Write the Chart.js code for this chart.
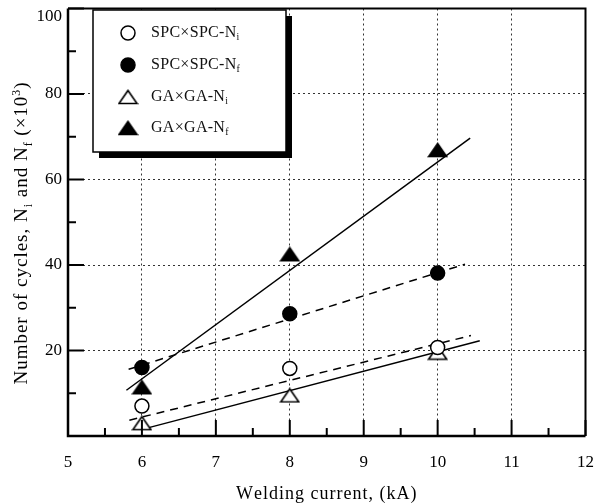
<!DOCTYPE html>
<html>
<head>
<meta charset="utf-8">
<script src="https://cdn.jsdelivr.net/npm/chart.js@4.4.1/dist/chart.umd.min.js"></script>
<style>
  html, body { margin: 0; padding: 0; background: #fff; }
  #wrap { width: 594px; height: 503px; }
</style>
</head>
<body>
<div id="wrap"><canvas id="fatigueChart"></canvas></div>
<script>
// values (x = welding current kA, y = cycles x10^3)
const currents = [6, 8, 10];
const spcNi = [7.0, 15.8, 20.7];
const spcNf = [16.0, 28.6, 38.1];
const gaNi = [3.0, 9.5, 19.5];
const gaNf = [11.4, 42.5, 66.9];

// fitted lines, end points [x, y]
const spcNiFit = [[5.83, 3.7], [10.45, 23.5]];
const spcNfFit = [[5.82, 15.6], [10.37, 40.2]];
const gaNiFit = [[6.08, 1.9], [10.57, 22.3]];
const gaNfFit = [[5.79, 10.7], [10.44, 69.7]];

const xTicks = [5, 6, 7, 8, 9, 10, 11, 12];
const yTicks = [0, 20, 40, 60, 80, 100];
const seriesLabels = ['SPC×SPC-N_i', 'SPC×SPC-N_f', 'GA×GA-N_i', 'GA×GA-N_f'];

const FONT = '"Liberation Serif", "DejaVu Serif", serif';

// flat triangle markers like the scanned figure
function triangleImage(filled) {
    const c = document.createElement('canvas');
    c.width = 21; c.height = 16;
    const g = c.getContext('2d');
    g.beginPath();
    g.moveTo(10.5, 1.5); g.lineTo(19.5, 14.5); g.lineTo(1.5, 14.5); g.closePath();
    g.fillStyle = filled ? '#000' : '#fff';
    g.fill();
    g.lineWidth = 1.6;
    g.strokeStyle = '#000';
    g.stroke();
    return c;
}
const triOpen = triangleImage(false);
const triFilled = triangleImage(true);

function pts(ys) { return currents.map((x, i) => ({ x: x, y: ys[i] })); }
function seg(p) { return p.map(d => ({ x: d[0], y: d[1] })); }

function markerSet(i, ys, style, filled) {
    return {
        label: seriesLabels[i],
        data: pts(ys),
        pointStyle: style,
        pointRadius: 7,
        pointBorderWidth: 1.5,
        pointBackgroundColor: filled ? '#000' : '#fff',
        pointBorderColor: '#000',
        showLine: false
    };
}
function fitSet(p, dashed) {
    return {
        label: '',
        data: seg(p),
        showLine: true,
        borderColor: '#000',
        borderWidth: 1.5,
        borderDash: dashed ? [8, 6] : [],
        pointRadius: 0
    };
}

// text pieces, some sub/superscript, with optional extra letter spacing
function drawRich(ctx, parts, x, y, size, sp) {
    let cx = x;
    sp = sp || 0;
    parts.forEach(p => {
        let s = size, dy = 0;
        if (p.sub) { s = size * 0.62; dy = size * 0.28; }
        if (p.sup) { s = size * 0.62; dy = -size * 0.38; }
        ctx.font = s + 'px ' + FONT;
        for (const ch of p.t) {
            ctx.fillText(ch, cx, y + dy);
            cx += ctx.measureText(ch).width + sp;
        }
    });
    return cx - x;
}
function richWidth(ctx, parts, size, sp) {
    let w = 0;
    sp = sp || 0;
    parts.forEach(p => {
        ctx.font = ((p.sub || p.sup) ? size * 0.62 : size) + 'px ' + FONT;
        for (const ch of p.t) w += ctx.measureText(ch).width + sp;
    });
    return w;
}
function splitLabel(lbl) {
    const k = lbl.indexOf('_');
    return [{ t: lbl.slice(0, k) }, { t: lbl.slice(k + 1), sub: true }];
}

const decor = {
    id: 'decor',
    afterDraw(chart) {
        const ctx = chart.ctx;
        const a = chart.chartArea;
        const xs = chart.scales.x, ys = chart.scales.y;
        ctx.save();
        ctx.strokeStyle = '#000';
        ctx.fillStyle = '#000';
        ctx.setLineDash([]);

        // inward ticks on left and bottom
        ctx.lineWidth = 2;
        xTicks.forEach((v, i) => {
            const px = xs.getPixelForValue(v);
            ctx.beginPath(); ctx.moveTo(px, a.bottom); ctx.lineTo(px, a.bottom - 16); ctx.stroke();
            if (i < xTicks.length - 1) {
                const m = xs.getPixelForValue((v + xTicks[i + 1]) / 2);
                ctx.beginPath(); ctx.moveTo(m, a.bottom); ctx.lineTo(m, a.bottom - 8); ctx.stroke();
            }
        });
        yTicks.forEach((v, i) => {
            const py = ys.getPixelForValue(v);
            ctx.beginPath(); ctx.moveTo(a.left, py); ctx.lineTo(a.left + 16, py); ctx.stroke();
            if (i < yTicks.length - 1) {
                const m = ys.getPixelForValue((v + yTicks[i + 1]) / 2);
                ctx.beginPath(); ctx.moveTo(a.left, m); ctx.lineTo(a.left + 8, m); ctx.stroke();
            }
        });

        // frame
        ctx.lineWidth = 2.5;
        ctx.beginPath();
        ctx.moveTo(a.left, a.top); ctx.lineTo(a.left, a.bottom); ctx.lineTo(a.right, a.bottom);
        ctx.stroke();
        ctx.lineWidth = 2;
        ctx.beginPath();
        ctx.moveTo(a.left, a.top); ctx.lineTo(a.right, a.top); ctx.lineTo(a.right, a.bottom);
        ctx.stroke();

        // tick labels
        ctx.font = '17px ' + FONT;
        ctx.textAlign = 'center';
        ctx.textBaseline = 'middle';
        xTicks.forEach(v => {
            ctx.fillText(String(v), xs.getPixelForValue(v), a.bottom + 27);
        });
        ctx.textAlign = 'right';
        yTicks.forEach(v => {
            if (v === 0) return;
            const py = Math.max(ys.getPixelForValue(v), a.top + 8);
            ctx.fillText(String(v), a.left - 6, py);
        });

        // axis titles
        ctx.textAlign = 'left';
        ctx.textBaseline = 'alphabetic';
        const xt = [{ t: 'Welding current, (kA)' }];
        const xw = richWidth(ctx, xt, 18, 1);
        drawRich(ctx, xt, (a.left + a.right) / 2 - xw / 2, 499, 18, 1);

        const yt = [{ t: 'Number of cycles, N' }, { t: 'i', sub: true }, { t: ' and N' },
                    { t: 'f', sub: true }, { t: ' (×10' }, { t: '3', sup: true }, { t: ')' }];
        const yw = richWidth(ctx, yt, 19, 1);
        ctx.save();
        ctx.translate(27, 233);
        ctx.rotate(-Math.PI / 2);
        drawRich(ctx, yt, -yw / 2, 0, 19, 1);
        ctx.restore();

        // legend box with drop shadow
        const bx = a.left + 25, by = 10, bw = 193, bh = 142;
        ctx.fillStyle = '#000';
        ctx.fillRect(bx + 6, by + 6, bw, bh);
        ctx.fillStyle = '#fff';
        ctx.fillRect(bx, by, bw, bh);
        ctx.lineWidth = 1.5;
        ctx.strokeRect(bx, by, bw, bh);

        const rows = [33, 65, 97, 128];
        chart.data.datasets.slice(0, 4).forEach((ds, i) => {
            const cx = bx + 35, cy = rows[i];
            if (ds.pointStyle instanceof HTMLCanvasElement) {
                ctx.drawImage(ds.pointStyle, cx - ds.pointStyle.width / 2, cy - ds.pointStyle.height / 2);
            } else {
                ctx.fillStyle = ds.pointBackgroundColor;
                ctx.strokeStyle = '#000';
                ctx.lineWidth = 1.5;
                ctx.beginPath();
                ctx.arc(cx, cy, ds.pointRadius, 0, Math.PI * 2);
                ctx.fill();
                ctx.stroke();
            }
            ctx.fillStyle = '#111';
            ctx.textBaseline = 'middle';
            drawRich(ctx, splitLabel(ds.label), bx + 58, cy, 16, 0.3);
        });
        ctx.restore();
    }
};

new Chart(document.getElementById('fatigueChart'), {
    type: 'scatter',
    data: {
        datasets: [
            markerSet(0, spcNi, 'circle', false),
            markerSet(1, spcNf, 'circle', true),
            markerSet(2, gaNi, triOpen, false),
            markerSet(3, gaNf, triFilled, true),
            fitSet(spcNiFit, true),
            fitSet(spcNfFit, true),
            fitSet(gaNiFit, false),
            fitSet(gaNfFit, false)
        ]
    },
    options: {
        responsive: true,
        maintainAspectRatio: false,
        animation: false,
        layout: { padding: { top: 5, right: 6, left: 0, bottom: 0 } },
        plugins: { legend: { display: false }, tooltip: { enabled: false } },
        scales: {
            x: {
                type: 'linear', min: 5, max: 12,
                afterBuildTicks: s => { s.ticks = xTicks.map(v => ({ value: v })); },
                afterFit: s => { s.height = 67; },
                ticks: { display: false },
                grid: { color: '#333', lineWidth: 1, drawTicks: false },
                border: { display: false, dash: [2, 3] }
            },
            y: {
                type: 'linear', min: 0, max: 100,
                afterBuildTicks: s => { s.ticks = yTicks.map(v => ({ value: v })); },
                afterFit: s => { s.width = 68; },
                ticks: { display: false },
                grid: { color: '#333', lineWidth: 1, drawTicks: false },
                border: { display: false, dash: [2, 3] }
            }
        }
    },
    plugins: [decor]
});
</script>
</body>
</html>
